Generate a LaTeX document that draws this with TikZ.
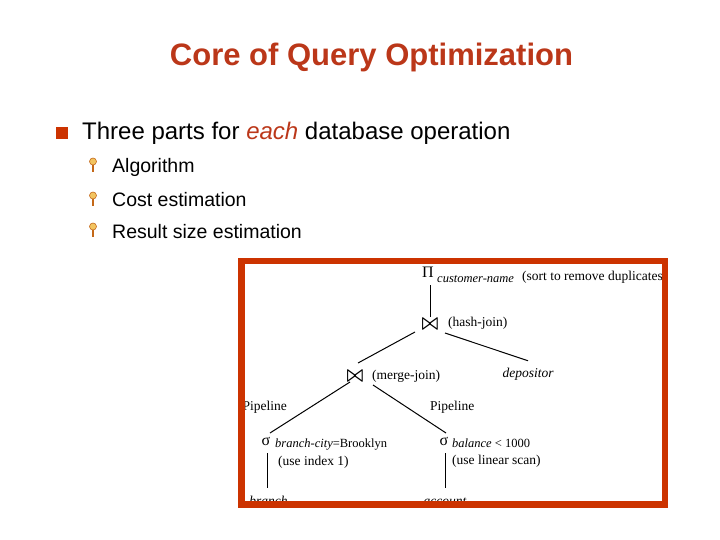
\documentclass[tikz,border=0pt]{standalone}
\usepackage{fontspec}
\setmainfont{Liberation Sans}
\newfontfamily\treefont{Liberation Serif}
\usepackage{graphicx}
\usetikzlibrary{positioning, calc}
\definecolor{slidered}{RGB}{204,51,0}
\definecolor{titlered}{RGB}{187,55,25}
\definecolor{pinfill}{RGB}{242,196,96}
\definecolor{pinedge}{RGB}{196,104,24}

\tikzset{
  scoop/.pic={
    \draw[pinedge, line width=1.1pt] (0,0) -- (0,7);
    \filldraw[fill=pinfill, draw=pinedge, line width=0.6pt] (0,-3.5) circle (3.5pt);
  }
}

\begin{document}
\begin{tikzpicture}[x=1pt, y=-1pt,
  tree/.style={font=\treefont\fontsize{13.5}{16}\selectfont, inner sep=0pt},
  treeit/.style={font=\treefont\itshape\fontsize{13.5}{16}\selectfont, inner sep=0pt},
  sub/.style={font=\treefont\fontsize{12.5}{14}\selectfont, inner sep=0pt},
  greek/.style={font=\treefont\fontsize{16}{18}\selectfont, inner sep=0pt},
  joinop/.style={inner sep=0pt, font=\boldmath},
  edge/.style={line width=1pt},
  item/.style={font=\fontsize{19.5}{23}\selectfont, inner sep=0pt, anchor=base west}]
\useasboundingbox (0,0) rectangle (720,540);
% title
\node[font=\bfseries\fontsize{31}{36}\selectfont, text=titlered, anchor=base, inner sep=0pt] (title) at (371.5,66) {Core of Query Optimization};
% bullets
\node[fill=slidered, minimum size=12pt, inner sep=0pt] (sq) at (61.5,133.5) {};
\node[font=\fontsize{24}{28}\selectfont, inner sep=0pt, anchor=base west] (main) at (82,140) {Three parts for \textcolor{titlered}{\itshape each} database operation};
\foreach \txt/\yy [count=\i] in {Algorithm/173, Cost estimation/207, Result size estimation/238} {
  \pic at (93,\yy-8) {scoop};
  \node[item] (item\i) at (112,\yy) {\txt};
}
% plan, cut off by the frame
\begin{scope}
\clip (245,264.5) rectangle (661.5,501);
\node[greek] (proj) at (428,272) {Π};
\node[sub, anchor=base west] (projsub) at (437,282) {\textit{customer-name}};
\node[tree, anchor=base west] (projnote) at (522,280) {(sort to remove duplicates)};
\node[joinop] (hash) at (430,324.5) {\scalebox{1.75}[2.2]{$\bowtie$}};
\node[tree, anchor=west] (hashnote) at (448,323) {(hash-join)};
\node[joinop] (merge) at (355,376) {\scalebox{1.75}[2.2]{$\bowtie$}};
\node[tree, anchor=west] (mergenote) at (372,376) {(merge-join)};
\node[treeit, anchor=base] (dep) at (528,377) {depositor};
\node[tree, anchor=base east] (pipeL) at (287,410) {Pipeline};
\node[tree, anchor=base west] (pipeR) at (430,410) {Pipeline};
\node[greek] (selL) at (266,441) {σ};
\node[sub, anchor=base west] (selLsub) at (275,447) {\textit{branch-city}=Brooklyn};
\node[tree, anchor=west] (selLnote) at (278,462) {(use index 1)};
\node[greek] (selR) at (444,441) {σ};
\node[sub, anchor=base west] (selRsub) at (452,447) {\textit{balance} < 1000};
\node[tree, anchor=west] (selRnote) at (452,461) {(use linear scan)};
\node[treeit, anchor=base] (branch) at (268.5,505) {branch};
\node[treeit, anchor=base] (account) at (445,505) {account};
% edges
\draw[edge] ($(proj)+(2,13)$) -- ($(hash)+(0,-7.5)$);
\draw[edge] ($(hash)+(-15,7.5)$) -- ($(merge)+(3,-13)$);
\draw[edge] ($(hash)+(15,8.5)$) -- ($(dep)+(0,-13)$);
\draw[edge] ($(merge)+(-5,6)$) -- ($(selL)+(4,-8)$);
\draw[edge] ($(merge)+(18,9)$) -- ($(selR)+(2,-8)$);
\draw[edge] ($(selL)+(1,12)$) -- ($(branch.base)+(-1.5,-17)$);
\draw[edge] ($(selR)+(1,12)$) -- ($(account.base)+(0,-17)$);
\end{scope}
% frame
\draw[slidered, line width=6.5pt] (241.5,261) rectangle (665,504.5);
\end{tikzpicture}
\end{document}
